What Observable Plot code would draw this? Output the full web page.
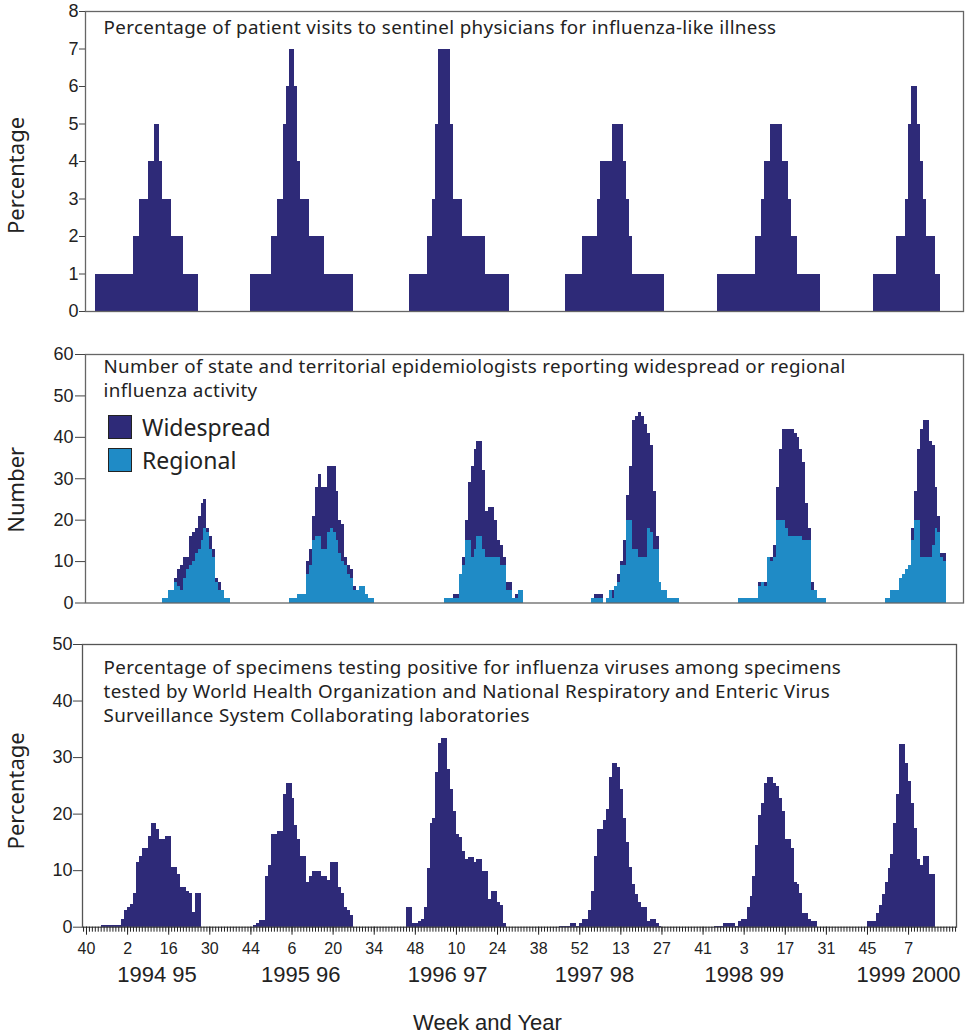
<!DOCTYPE html>
<html>
<head>
<meta charset="utf-8">
<script src="https://cdn.jsdelivr.net/npm/d3@7"></script>
<script src="https://cdn.jsdelivr.net/npm/@observablehq/plot@0.6"></script>
<style>
  body { margin: 0; background: #fff; }
  #wrap { position: relative; width: 973px; height: 1034px; overflow: hidden; background: #fff; }
  #wrap svg { position: absolute; left: 0; }
  #wrap g[font-family="'Noto Sans', sans-serif"] { letter-spacing: 0.35px; }
  .leg { position: absolute; font-family: "Noto Sans", sans-serif; font-size: 23px; color: #222; }
  .sw { position: absolute; width: 22px; height: 22px; border: 1px solid #222; }
</style>
</head>
<body>
<div id="wrap"></div>
<script>
// ---------------- DATA ----------------
// x = week index counted from week 40 of 1994 (index 0)
const weekTickLabels = ["40","2","16","30","44","6","20","34","48","10","24","38","52","13","27","41","3","17","31","45","7"];
const yearLabels = ["1994 95","1995 96","1996 97","1997 98","1998 99","1999 2000"];
const yearLabelWeek = [24, 73, 123, 173, 224, 280];

// Panel 1: % of visits for influenza-like illness (weekly)
const iliStart = [3, 56, 110, 163, 215, 268];
const ili1 = [1,1,1,1,1,1,1,1,1,1,1,1,1,2,2,3,3,3,4,4,5,5,4,3,3,3,2,2,2,2,1,1,1,1,1];
const ili2 = [1,1,1,1,1,1,1,2,2,3,3,5,6,7,7,6,4,3,3,3,2,2,2,2,2,1,1,1,1,1,1,1,1,1,1];
const ili3 = [1,1,1,1,1,1,2,2,3,5,7,7,7,7,5,3,3,3,2,2,2,2,2,2,2,2,1,1,1,1,1,1,1,1];
const ili4 = [1,1,1,1,1,1,2,2,2,2,2,3,4,4,4,4,5,5,5,5,4,3,2,1,1,1,1,1,1,1,1,1,1,1];
const ili5 = [1,1,1,1,1,1,1,1,1,1,1,1,1,2,2,3,4,4,5,5,5,5,4,4,3,2,2,1,1,1,1,1,1,1,1];
const ili6 = [1,1,1,1,1,1,1,1,2,2,2,3,5,6,6,5,4,3,2,2,2,1,1];

// Panel 2: number of state epidemiologists reporting regional / widespread activity
const stateStart = [26, 69, 122, 172, 222, 272];
const regional1 = [1,1,3,3,5,4,3,6,8,9,10,12,13,15,18,17,13,11,5,3,3,1,1];
const widespread1 = [0,0,0,0,1,4,6,5,3,7,7,6,8,9,7,1,3,2,1,2,0,0,0];
const regional2 = [1,1,1,2,2,2,7,9,15,16,16,13,13,17,18,17,15,12,10,9,7,6,3,3,4,4,2,1,1];
const widespread2 = [0,0,0,0,0,0,3,4,6,12,15,15,15,16,15,16,12,8,9,2,2,2,1,0,0,0,0,0,0];
const regional3 = [1,1,1,1,1,7,9,15,15,11,13,16,16,13,11,11,11,11,11,9,9,3,3,1,1,3,3];
const widespread3 = [0,0,0,1,1,0,2,5,14,22,24,23,23,19,11,12,12,9,4,5,2,2,2,0,1,0,0];
const regional4 = [1,1,1,1,0,1,3,1,4,5,9,9,20,20,13,13,11,11,11,18,17,13,13,5,3,3,1,1,1,1];
const widespread4 = [0,1,1,1,0,0,0,2,0,2,1,6,6,13,31,32,35,34,32,23,21,14,3,0,0,0,0,0,0,0];
const regional5 = [1,1,1,1,1,1,1,4,5,4,11,10,11,20,20,20,18,16,16,16,16,16,15,15,15,3,3,1,1,1];
const widespread5 = [0,0,0,0,0,0,0,1,0,1,0,1,3,8,17,22,24,26,26,25,24,21,19,9,3,2,0,0,0,0];
const regional6 = [1,1,3,3,3,6,7,8,9,15,20,20,11,11,11,11,14,18,17,11,10];
const widespread6 = [0,0,0,0,0,0,0,0,0,3,7,17,31,33,33,28,24,10,4,1,2];

// Panel 3: % of specimens testing positive for influenza
const labStart = [5, 57, 109, 161, 214, 266];
const lab1 = [0.3,0.3,0.3,0.3,0.3,0.3,0.3,1.4,3,3.4,4,6,11.4,12.5,14,14,16,18.4,18.4,17.3,15.5,15.5,16,16,10.6,10.6,9.4,7,7,6.4,6,2.6,6,6];
const lab2 = [0.3,0.7,1.1,1.1,8.9,10.9,16.4,16.4,16.9,16.9,23.4,25.4,25.4,22.8,17.9,15.5,12.5,12.5,7.9,8.9,9.9,9.9,9.9,8.9,8.9,8.3,11.4,11.4,11.4,7,5.9,3.4,3,2];
const lab3 = [3.4,3.4,0.6,0.6,1,1.4,3.4,10.4,18.4,19.3,27.3,32.5,33.3,33.3,27.9,24.3,20.5,16.4,15.9,13.4,11.9,12.3,12.3,11.4,11.9,11.9,9.8,9.8,4.9,6.4,6.4,4.3,3.9,0.6];
const lab4 = [0.2,0.2,0.2,0.2,0.6,0.6,0.2,0.6,1.4,1.4,2.9,6.4,12.5,17.3,17.3,18.9,20.8,26.4,28.9,28.9,28.3,24.3,19.3,14.9,10.6,7.5,5.8,4.3,3.4,3.4,1,1.4,1.4,0.6,0.2];
const lab5 = [0.2,0.2,0.2,0.6,0.6,0.6,0.6,0.2,1,1.4,1.4,3.4,5.5,8.9,14.4,19.7,21.8,25.5,26.4,26.4,25.4,24.9,22.8,20.5,15.5,15.5,13.9,7.9,7.5,5.9,2.4,2.4,1.4,1,1];
const lab6 = [1,1,1,2.4,3.9,5.8,7.9,10.4,12.9,18.3,23.4,32.4,32.4,28.9,25.8,21.9,17.4,11.9,11,12.5,12.5,9.4,9.4];

const iliTicks = [0,1,2,3,4,5,6,7,8];
const stateTicks = [0,10,20,30,40,50,60];
const labTicks = [0,10,20,30,40,50];

const iliTitle = "Percentage of patient visits to sentinel physicians for influenza-like illness";
const stateTitle = "Number of state and territorial epidemiologists reporting widespread or regional\ninfluenza activity";
const labTitle = "Percentage of specimens testing positive for influenza viruses among specimens\ntested by World Health Organization and National Respiratory and Enteric Virus\nSurveillance System Collaborating laboratories";
const seriesNames = ["Widespread", "Regional"];
const xTitle = "Week and Year";

// ---------------- BUILD ----------------
const NAVY = "#2e2a78", BLUE = "#1f8bc6", INK = "#222";
const TITLE_FONT = "'Noto Sans', sans-serif";
const YTITLE_FONT = "'Noto Sans', 'Open Sans', sans-serif";
const TICK_FONT = "'Liberation Sans', Arial, sans-serif";
const TITLE_SIZE = 18.8;

function expand(starts, seasons) {
  return seasons.flatMap((vals, s) => vals.map((v, i) => ({k: starts[s] + i, v})));
}
const iliData = expand(iliStart, [ili1, ili2, ili3, ili4, ili5, ili6]);
const labData = expand(labStart, [lab1, lab2, lab3, lab4, lab5, lab6]);
const regAll = [regional1, regional2, regional3, regional4, regional5, regional6];
const wideAll = [widespread1, widespread2, widespread3, widespread4, widespread5, widespread6];
const stateData = regAll.flatMap((reg, s) => reg.map((r, i) => ({k: stateStart[s] + i, r, w: wideAll[s][i]})));

const wrap = document.getElementById("wrap");
function place(svg, top) { svg.style.top = top + "px"; wrap.appendChild(svg); }

const baseStyle = {fontFamily: TICK_FONT, fontSize: "18px", color: INK, background: "transparent", overflow: "visible"};
const topDomain = [-0.34, 298.7];

// Panel 1
place(Plot.plot({
  width: 973, height: 331, marginTop: 11, marginBottom: 20, marginLeft: 85, marginRight: 10,
  style: baseStyle,
  x: {domain: topDomain, axis: null},
  y: {domain: [0, 8], axis: null},
  marks: [
    Plot.rect(iliData, {x1: "k", x2: d => d.k + 1, y1: 0, y2: "v", fill: NAVY, shapeRendering: "crispEdges"}),
    Plot.frame({stroke: "#666", strokeWidth: 1.3}),
    Plot.axisY(iliTicks, {tickSize: 6, tickPadding: 1, label: null, fontSize: 18, stroke: "#444"}),
    Plot.text([iliTitle], {frameAnchor: "top-left", dx: 18, dy: 16, textAnchor: "start", lineAnchor: "middle", fontFamily: TITLE_FONT, fontSize: TITLE_SIZE, fill: INK}),
    Plot.text(["Percentage"], {frameAnchor: "left", textAnchor: "middle", rotate: -90, dx: -69, dy: 14, fontFamily: YTITLE_FONT, fontSize: 22, fill: INK})
  ]
}), 0);

// Panel 2
place(Plot.plot({
  width: 973, height: 290, marginTop: 23, marginBottom: 18.5, marginLeft: 85, marginRight: 10,
  style: baseStyle,
  x: {domain: topDomain, axis: null},
  y: {domain: [0, 60], axis: null},
  marks: [
    Plot.rect(stateData, {x1: "k", x2: d => d.k + 1, y1: 0, y2: "r", fill: BLUE, shapeRendering: "crispEdges"}),
    Plot.rect(stateData.filter(d => d.w > 0), {x1: "k", x2: d => d.k + 1, y1: "r", y2: d => d.r + d.w, fill: NAVY, shapeRendering: "crispEdges"}),
    Plot.frame({stroke: "#666", strokeWidth: 1.3}),
    Plot.axisY(stateTicks, {tickSize: 10, tickPadding: 2, label: null, fontSize: 18, stroke: "#444"}),
    Plot.text([stateTitle], {frameAnchor: "top-left", dx: 18, dy: 23, textAnchor: "start", lineAnchor: "middle", lineHeight: 1.277, fontFamily: TITLE_FONT, fontSize: TITLE_SIZE, fill: INK}),
    Plot.text(["Number"], {frameAnchor: "left", textAnchor: "middle", rotate: -90, dx: -69, dy: 11, fontFamily: YTITLE_FONT, fontSize: 22, fill: INK})
  ]
}), 331);

// Panel 3
const majorWeeks = weekTickLabels.map((_, i) => i * 14);
const labelByWeek = new Map(majorWeeks.map((w, i) => [w, weekTickLabels[i]]));
const yearData = yearLabels.map((label, i) => ({label, k: yearLabelWeek[i]}));
place(Plot.plot({
  width: 973, height: 413, marginTop: 23, marginBottom: 107.3, marginLeft: 82, marginRight: 17,
  style: baseStyle,
  x: {domain: [-1.362, 296.32], axis: null},
  y: {domain: [0, 50], axis: null},
  marks: [
    Plot.rect(labData, {x1: "k", x2: d => d.k + 1, y1: 0, y2: "v", fill: NAVY, shapeRendering: "crispEdges"}),
    Plot.frame({stroke: "#555", strokeWidth: 1.3}),
    Plot.axisY(labTicks, {tickSize: 9, tickPadding: 1, label: null, fontSize: 18, stroke: "#444"}),
    Plot.axisX(d3.range(-1, 297), {tickSize: 5, tickFormat: () => "", label: null, stroke: "#222"}),
    Plot.axisX(majorWeeks, {tickSize: 8, tickPadding: 7, tickFormat: d => labelByWeek.get(d), label: null, fontSize: 16, stroke: "#222"}),
    Plot.text(yearData, {x: "k", text: "label", frameAnchor: "bottom", dy: 55, fontFamily: TICK_FONT, fontSize: 22, fill: INK}),
    Plot.text([xTitle], {frameAnchor: "bottom", dx: -32, dy: 103, fontFamily: TICK_FONT, fontSize: 22, fill: INK}),
    Plot.text([labTitle], {frameAnchor: "top-left", dx: 21, dy: 46, textAnchor: "start", lineAnchor: "middle", lineHeight: 1.277, fontFamily: TITLE_FONT, fontSize: TITLE_SIZE, fill: INK}),
    Plot.text(["Percentage"], {frameAnchor: "left", textAnchor: "middle", rotate: -90, dx: -66, dy: 5, fontFamily: YTITLE_FONT, fontSize: 22, fill: INK})
  ]
}), 621);

// Legend (panel 2)
const legColors = [NAVY, BLUE];
seriesNames.forEach((name, i) => {
  const sw = document.createElement("div");
  sw.className = "sw";
  sw.style.left = "108px"; sw.style.top = (415 + i * 33) + "px"; sw.style.background = legColors[i];
  wrap.appendChild(sw);
  const t = document.createElement("div");
  t.className = "leg";
  t.textContent = name;
  t.style.left = "142px"; t.style.top = (410 + i * 33) + "px"; t.style.lineHeight = "34px";
  wrap.appendChild(t);
});
</script>
</body>
</html>
